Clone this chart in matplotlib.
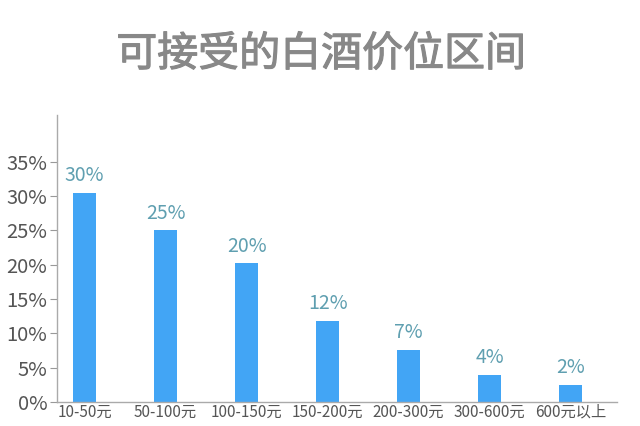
import matplotlib
matplotlib.use("Agg")
import matplotlib.pyplot as plt
import matplotlib.patheffects as pe
from matplotlib.ticker import FuncFormatter

plt.rcParams['font.family'] = ['Noto Sans CJK SC', 'DejaVu Sans']

categories = ["10-50元", "50-100元", "100-150元", "150-200元", "200-300元", "300-600元", "600元以上"]
values = [30.4, 25.0, 20.2, 11.8, 7.6, 3.9, 2.5]
value_labels = ["30%", "25%", "20%", "12%", "7%", "4%", "2%"]
yticks = [0, 5, 10, 15, 20, 25, 30, 35]

fig = plt.figure(figsize=(6.4, 4.26), dpi=100)
ax = fig.add_axes([0.089, 0.056, 0.875, 0.674])

x = list(range(len(categories)))
bars = ax.bar(x, values, width=0.285, color="#42a5f5")
for b, lab in zip(bars, value_labels):
    ax.text(b.get_x() + b.get_width() / 2, b.get_height() + 1.0, lab,
            ha="center", va="bottom", fontsize=14, color="#5f9fb0")

ax.set_xlim(-0.34, 6.57)
ax.set_ylim(0, 41.8)
ax.set_yticks(yticks)
ax.yaxis.set_major_formatter(FuncFormatter(lambda v, p: f"{int(v)}%"))
ax.set_xticks(x)
ax.set_xticklabels(categories)
ax.tick_params(axis="y", length=5, width=0.8, color="#999999", labelsize=14.5,
               labelcolor="#555555", pad=2)
ax.tick_params(axis="x", length=0, labelsize=11, labelcolor="#555555", pad=1)
for s in ["top", "right"]:
    ax.spines[s].set_visible(False)
for s in ["left", "bottom"]:
    ax.spines[s].set_color("#aaaaaa")
    ax.spines[s].set_linewidth(1)

fig.text(0.502, 0.872, "可接受的白酒价位区间", ha="center", va="center",
         fontsize=29.5, color="#888888", fontweight="normal",
         path_effects=[pe.withStroke(linewidth=0.8, foreground="#888888")])

fig.savefig("out.png", dpi=100, facecolor="white")
